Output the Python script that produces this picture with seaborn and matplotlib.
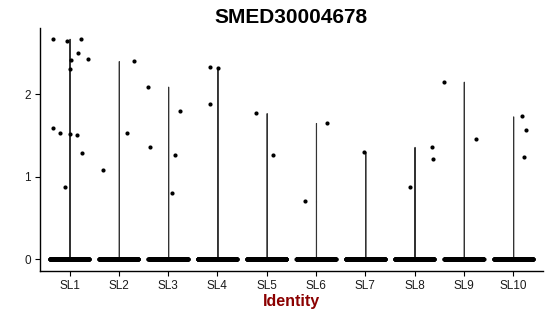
import numpy as np
import pandas as pd
import matplotlib
matplotlib.use("Agg")
import matplotlib.pyplot as plt
import seaborn as sns

title = "SMED30004678"
groups = ["SL1", "SL2", "SL3", "SL4", "SL5", "SL6", "SL7", "SL8", "SL9", "SL10"]
sl1 = [2.67, 2.67, 2.65, 2.50, 2.42, 2.41, 2.30, 1.59, 1.53, 1.52, 1.50, 1.29, 0.87]
sl2 = [2.40, 1.53, 1.08]
sl3 = [2.09, 1.79, 1.36, 1.26, 0.80]
sl4 = [2.33, 2.32, 1.88]
sl5 = [1.77, 1.26]
sl6 = [1.65, 0.70]
sl7 = [1.30]
sl8 = [1.36, 1.21, 0.88]
sl9 = [2.15, 1.46]
sl10 = [1.73, 1.57, 1.24]
zero_counts = [300, 300, 300, 300, 300, 300, 300, 300, 300, 300]
palette = ["#F8766D", "#D89000", "#A3A500", "#39B600", "#00BF7D",
           "#00BFC4", "#00B0F6", "#9590FF", "#E76BF3", "#FF62BC"]

nonzero = [sl1, sl2, sl3, sl4, sl5, sl6, sl7, sl8, sl9, sl10]
rows = []
for g, vals, nz in zip(groups, nonzero, zero_counts):
    for v in vals:
        rows.append((g, v))
    for _ in range(nz):
        rows.append((g, 0.0))
df = pd.DataFrame(rows, columns=["Identity", "Expression"])

sns.set_style("ticks")
plt.rcParams["font.family"] = ["Liberation Sans", "DejaVu Sans"]

fig = plt.figure(figsize=(5.5, 3.16), dpi=100)
ax = fig.add_axes([0.0727, 0.142, 0.914, 0.769])

sns.violinplot(data=df, x="Identity", y="Expression", hue="Identity",
               order=groups, hue_order=groups, palette=palette, legend=False,
               density_norm="width", cut=0, inner=None, width=0.8,
               bw_method=0.015, gridsize=600, linewidth=0.8, linecolor="#333333",
               saturation=1, ax=ax)
np.random.seed(7)
sns.stripplot(data=df, x="Identity", y="Expression", order=groups,
              color="black", size=3.0, jitter=0.4, linewidth=0, ax=ax)

ax.set_xlim(-0.6, 9.6)
ax.set_ylim(-0.145, 2.80)
ax.set_yticks([0, 1, 2])
ax.set_yticklabels(["0", "1", "2"])
for s in ["top", "right"]:
    ax.spines[s].set_visible(False)
for s in ["left", "bottom"]:
    ax.spines[s].set_linewidth(1.0)
    ax.spines[s].set_color("black")
ax.tick_params(axis="both", length=3.5, width=0.8, labelsize=8.5,
               colors="black", labelcolor="#1a1a1a", pad=3)
ax.set_ylabel("")
ax.set_xlabel("Identity", fontsize=11.5, fontweight="bold", color="#8B0000",
              labelpad=1)
ax.set_title(title, fontsize=15, fontweight="bold", pad=4, color="black")

fig.savefig("out.png", dpi=100)
